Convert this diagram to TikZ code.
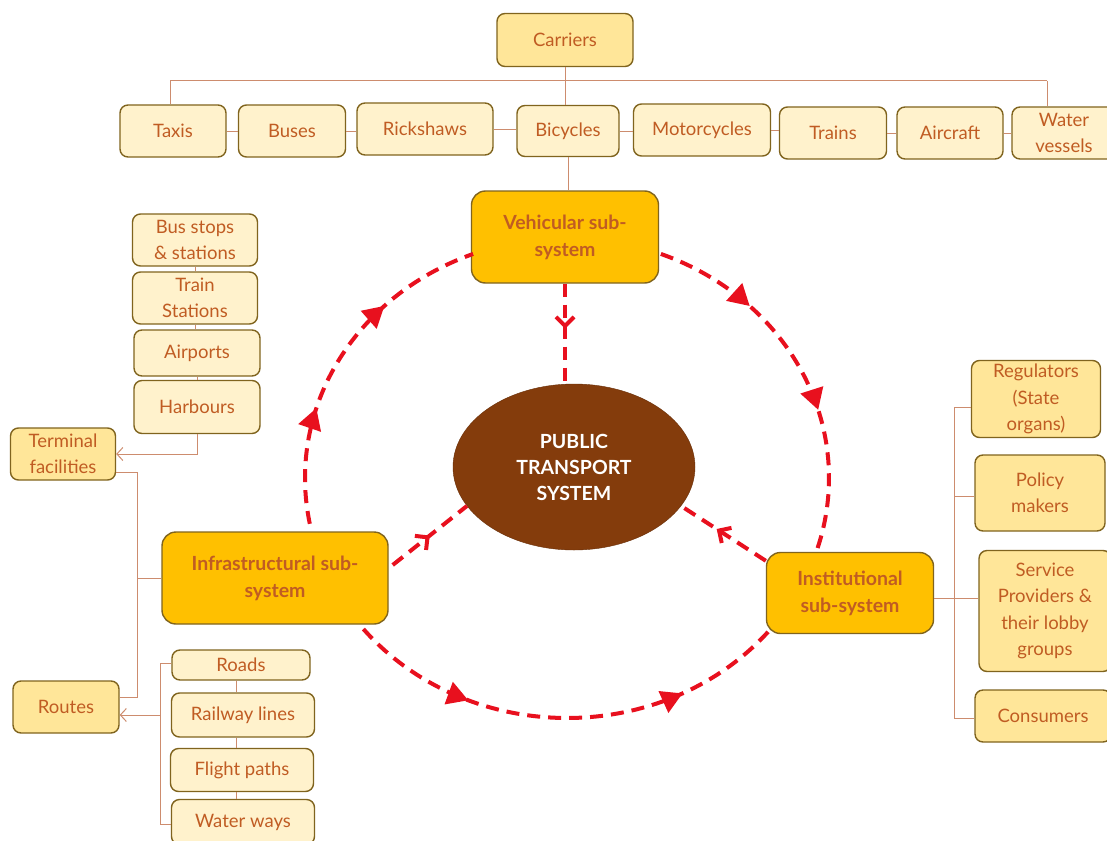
\documentclass[tikz,border=0pt]{standalone}
\usepackage{fontspec}
\setmainfont{Lato}
\usetikzlibrary{arrows.meta,decorations.markings,shapes.geometric}
\definecolor{lightfill}{HTML}{FFF2CC}
\definecolor{midfill}{HTML}{FFE699}
\definecolor{subfill}{HTML}{FFC000}
\definecolor{boxline}{RGB}{128,100,30}
\definecolor{txt}{RGB}{192,92,35}
\definecolor{connc}{RGB}{205,140,110}
\definecolor{arcred}{RGB}{232,16,30}
\definecolor{ptfill}{HTML}{843C0C}
\begin{document}
\begin{tikzpicture}[x=1pt,y=-1pt,
  lbox/.style={draw=boxline, fill=lightfill, rounded corners=8pt, line width=1.4pt,
    text=txt, align=center, inner sep=0pt, font=\fontsize{18.5}{26.5}\selectfont},
  mbox/.style={lbox, fill=midfill},
  sbox/.style={lbox, fill=subfill, rounded corners=14pt, font=\bfseries\fontsize{19.5}{27}\selectfont},
  conn/.style={draw=connc, line width=1pt},
  openarr/.style={-{Straight Barb[length=6pt,width=13pt]}},
  redarc/.style={draw=arcred, line width=4pt, dash pattern=on 13pt off 8pt},
  tris/.style n args={2}{postaction={decorate}, decoration={markings,
     mark=at position #1 with {\arrow{Triangle[length=21pt,width=23pt]}},
     mark=at position #2 with {\arrow{Triangle[length=21pt,width=23pt]}}}},
  chev/.style={postaction={decorate}, decoration={markings,
     mark=at position #1 with {\arrow{Straight Barb[length=9pt,width=18pt]}}}},
]
\useasboundingbox[fill=white] (0,0) rectangle (1107,840);

% ---- top row
\node[mbox, minimum width=136pt, minimum height=53pt] (carriers) at (565,40) {Carriers};
\node[lbox, minimum width=106pt, minimum height=52pt] (taxis) at (173,131) {Taxis};
\node[lbox, minimum width=107pt, minimum height=52pt] (buses) at (292,131) {Buses};
\node[lbox, minimum width=136pt, minimum height=52pt] (rick) at (425,129) {Rickshaws};
\node[lbox, minimum width=102pt, minimum height=51pt] (bicycles) at (568,131) {Bicycles};
\node[lbox, minimum width=137pt, minimum height=52pt] (motor) at (702,130) {Motorcycles};
\node[lbox, minimum width=107pt, minimum height=52pt] (trains) at (833,133) {Trains};
\node[lbox, minimum width=106pt, minimum height=52pt] (aircraft) at (950,133) {Aircraft};
\node[lbox, minimum width=104pt, minimum height=52pt] (water) at (1064,133) {Water\\vessels};

% ---- subsystems and centre
\node[sbox, minimum width=187pt, minimum height=92pt] (vehicular) at (565,237) {Vehicular sub-\\system};
\node[ellipse, fill=ptfill, draw=ptfill!80!black, minimum width=242pt, minimum height=166pt,
  inner sep=0pt, align=center, text=white, font=\bfseries\fontsize{19.5}{26}\selectfont] (pts) at (574,467) {PUBLIC\\TRANSPORT\\SYSTEM};
\node[sbox, minimum width=226pt, minimum height=92pt] (infra) at (275,578) {Infrastructural sub-\\system};
\node[sbox, minimum width=167pt, minimum height=81pt] (inst) at (850,593) {Institutional\\sub-system};

% ---- left column
\node[lbox, minimum width=125pt, minimum height=52pt] (busst) at (195,240) {Bus stops\\\& stations};
\node[lbox, minimum width=125pt, minimum height=52pt] (trainst) at (195,298) {Train\\Stations};
\node[lbox, minimum width=126pt, minimum height=46pt] (airports) at (197,353) {Airports};
\node[lbox, minimum width=126pt, minimum height=53pt] (harbours) at (197,407) {Harbours};
\node[mbox, minimum width=105pt, minimum height=52pt] (terminal) at (63,454) {Terminal\\facilities};
\node[mbox, minimum width=106pt, minimum height=52pt] (routes) at (66,707) {Routes};
\node[lbox, minimum width=138pt, minimum height=30pt] (roads) at (241,665) {Roads};
\node[lbox, minimum width=143pt, minimum height=44pt] (railway) at (243,715) {Railway lines};
\node[lbox, minimum width=143pt, minimum height=43pt] (flight) at (242,770) {Flight paths};
\node[lbox, minimum width=143pt, minimum height=45pt] (waterways) at (243,822) {Water ways};

% ---- right column
\node[mbox, minimum width=129pt, minimum height=77pt] (reg) at (1036,399) {Regulators\\(State\\organs)};
\node[mbox, minimum width=130pt, minimum height=76pt] (policy) at (1040,493) {Policy\\makers};
\node[mbox, minimum width=132pt, minimum height=121pt] (service) at (1045,611) {Service\\Providers \&\\their lobby\\groups};
\node[mbox, minimum width=136pt, minimum height=52pt] (consumers) at (1043,716) {Consumers};

% ---- thin connectors, top
\coordinate (hl) at (170,81);
\coordinate (hr) at (1047,81);
\draw[conn] (carriers.south) -- (carriers.south |- bicycles.north);
\draw[conn] (hl) -- (hr);
\draw[conn] (hl) -- (hl |- taxis.north);
\draw[conn] (hr) -- (hr |- water.north);
\draw[conn] (taxis.east) -- (taxis.east -| buses.west);
\draw[conn] (buses.east) -- (buses.east -| rick.west);
\draw[conn] (rick.east) -- (rick.east -| bicycles.west);
\draw[conn] (bicycles.east) -- (bicycles.east -| motor.west);
\draw[conn] (motor.east) -- (motor.east -| trains.west);
\draw[conn] (trains.east) -- (trains.east -| aircraft.west);
\draw[conn] (aircraft.east) -- (aircraft.east -| water.west);
\draw[conn] (bicycles.south) -- (bicycles.south |- vehicular.north);

% ---- left column connectors
\draw[conn] (busst.south) -- (busst.south |- trainst.north);
\draw[conn] (trainst.south) -- (trainst.south |- airports.north);
\draw[conn] (airports.south) -- (airports.south |- harbours.north);
\draw[conn, openarr] (harbours.south) |- (terminal.east);
\coordinate (sp1) at (137,472);
\coordinate (sp2) at (137,697);
\draw[conn] (terminal.east |- sp1) -- (sp1) -- (sp2) -- (routes.east |- sp2);
\draw[conn] (infra.west) -- (infra.west -| sp1);
\coordinate (rs1) at (160,663);
\coordinate (rs2) at (160,824);
\coordinate (ra) at (160,715);
\draw[conn] (roads.west |- rs1) -- (rs1) -- (rs2) -- (waterways.west |- rs2);
\draw[conn, openarr] (ra) -- (routes.east |- ra);
\draw[conn] ([xshift=-5pt]roads.south) -- ([xshift=-5pt]roads.south |- railway.north);
\draw[conn] ([xshift=-7pt]railway.south) -- ([xshift=-7pt]railway.south |- flight.north);
\draw[conn] ([xshift=-6pt]flight.south) -- ([xshift=-6pt]flight.south |- waterways.north);

% ---- right column connectors
\coordinate (q1) at (954,407);
\coordinate (q2) at (954,718);
\coordinate (q3) at (954,496);
\draw[conn] (q1) -- (q2);
\draw[conn] (q1) -- (q1 -| reg.west);
\draw[conn] (q3) -- (q3 -| policy.west);
\draw[conn] (q2) -- (q2 -| consumers.west);
\coordinate (q4) at (934,598);
\draw[conn] (q4) -- (q4 -| service.west);

% ---- red dashed cycle
\draw[redarc, tris={0.34}{0.70}] plot[domain=-191:-111, samples=90] ({567+262*cos(\x)},{478+240*sin(\x)});
\draw[redarc, tris={0.28}{0.62}] plot[domain=-69:17, samples=90] ({567+262*cos(\x)},{478+240*sin(\x)});
\draw[redarc, tris={0.28}{0.76}] plot[domain=39:141, samples=90] ({567-262*cos(\x)},{478+240*sin(\x)});

% ---- red dashed radial arrows
\draw[redarc, chev=0.45] (vehicular.south) -- (vehicular.south |- pts.north);
\draw[redarc, chev=0.5] ([xshift=4pt,yshift=13pt]infra.east) -- (pts.200);
\draw[redarc, chev=0.58] ([yshift=-9pt]inst.north west) -- (pts.-20);
\end{tikzpicture}
\end{document}
